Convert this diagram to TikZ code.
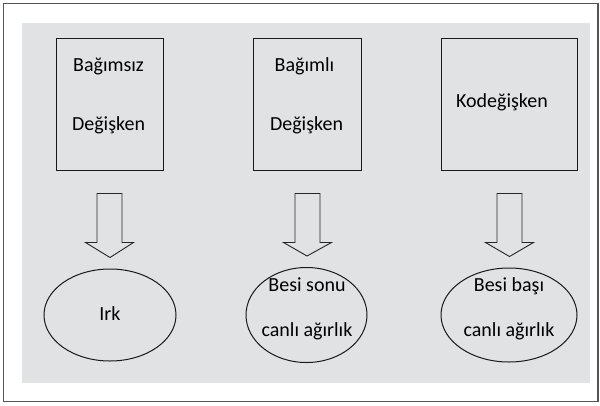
\documentclass[tikz,border=0pt]{standalone}
\usepackage{fontspec}
\setmainfont{Carlito}
\usetikzlibrary{shapes.geometric,calc}
\definecolor{panel}{RGB}{225,226,228}
\definecolor{framecol}{RGB}{85,85,85}
\begin{document}
\begin{tikzpicture}[x=1pt,y=-1pt,
  boxnode/.style={draw=black!90, line width=1pt, minimum height=132pt, inner sep=0pt},
  ovalnode/.style={ellipse, draw=black!90, line width=1pt, inner sep=0pt},
  txt/.style={font=\fontsize{20}{24}\selectfont, inner sep=0pt, anchor=base, text=black},
  blockarrow/.style={draw=black!85, line width=0.9pt, line join=miter}]
\useasboundingbox (0,0) rectangle (600,405);
\draw[framecol, line width=1.5pt] (3.5,3.5) rectangle (598,401.5);
\fill[panel] (22,23) rectangle (590,383);
% boxes
\node[boxnode, minimum width=107pt] (b1) at (109.5,104) {};
\node[boxnode, minimum width=108pt] (b2) at (307,104) {};
\node[boxnode, minimum width=136pt] (b3) at (509,104) {};
\node[txt] (t1a) at (108.5,71) {Bağımsız};
\node[txt] (t1b) at (108.5,130) {Değişken};
\node[txt] (t2a) at (304.5,71) {Bağımlı};
\node[txt] (t2b) at (306.5,130) {Değişken};
\node[txt] (t3) at (502,107) {Kodeğişken};
% ellipses
\node[ovalnode, minimum width=132pt, minimum height=92pt] (e1) at (110,315) {};
\node[ovalnode, minimum width=121pt, minimum height=95pt] (e2) at (306.5,315) {};
\node[ovalnode, minimum width=136pt, minimum height=94pt] (e3) at (509,315) {};
\node[txt] (u1) at (110,320) {Irk};
\node[txt] (u2a) at (307,291) {Besi sonu};
\node[txt] (u2b) at (307,336) {canlı ağırlık};
\node[txt] (u3a) at (509,291) {Besi başı};
\node[txt] (u3b) at (509,336) {canlı ağırlık};
% block arrows
\foreach \b/\e/\dx in {b1/e1/0, b2/e2/0.5, b3/e3/0.5}{
  \draw[blockarrow] ($(\b.south)+(\dx,23)$) ++(-12.5,0) -- ++(25,0) -- ++(0,49)
    -- ++(11.5,0) -- ($(\e.north)+(\dx,-11)$) -- ($(\b.south)+(\dx,72)+(-24,0)$)
    -- ++(11.5,0) -- cycle;
}
\end{tikzpicture}
\end{document}
